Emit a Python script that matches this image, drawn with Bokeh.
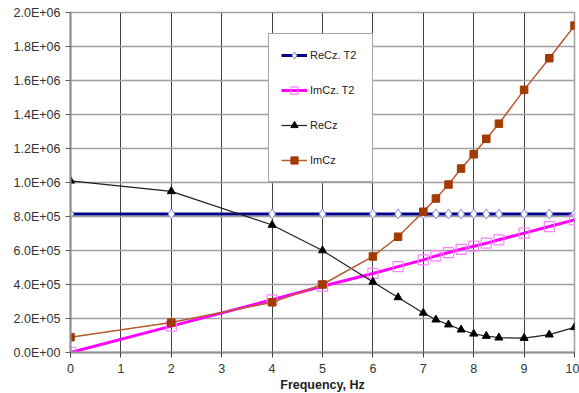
from bokeh.plotting import figure
from bokeh.models import FixedTicker, Range1d, Title, Legend
from bokeh.embed import file_html
from bokeh.resources import INLINE

freq = [0, 2, 4, 5, 6, 6.5, 7, 7.25, 7.5, 7.75, 8, 8.25, 8.5, 9, 9.5, 10]
recz_t2 = [8.15e5] * len(freq)
imcz_t2 = [0, 1.55e5, 3.1e5, 3.9e5, 4.65e5, 5.05e5, 5.45e5, 5.68e5, 5.88e5,
           6.07e5, 6.25e5, 6.43e5, 6.63e5, 7.02e5, 7.41e5, 7.8e5]
recz = [1.01e6, 0.948e6, 7.5e5, 6.0e5, 4.15e5, 3.24e5, 2.33e5, 1.93e5, 1.64e5,
        1.34e5, 1.1e5, 0.97e5, 0.87e5, 0.85e5, 1.05e5, 1.48e5]
imcz = [0.9e5, 1.76e5, 2.95e5, 4.0e5, 5.65e5, 6.81e5, 8.28e5, 9.06e5, 9.88e5,
        1.082e6, 1.166e6, 1.257e6, 1.346e6, 1.545e6, 1.731e6, 1.923e6]
y_ticks = [0, 2e5, 4e5, 6e5, 8e5, 1.0e6, 1.2e6, 1.4e6, 1.6e6, 1.8e6, 2.0e6]
x_ticks = list(range(0, 11))
x_title = "Frequency, Hz"

FONT = "Liberation Sans"

p = figure(width=579, height=393, output_backend="svg", toolbar_location=None,
           x_range=Range1d(0, 10), y_range=Range1d(0, 2.0e6),
           min_border_left=70, min_border_right=5, min_border_top=12,
           min_border_bottom=41)
p.background_fill_color = "white"
p.border_fill_color = "white"
p.outline_line_color = "#a0a0a0"
p.outline_line_width = 1.5

# axes
p.xaxis.ticker = FixedTicker(ticks=x_ticks)
p.yaxis.ticker = FixedTicker(ticks=y_ticks)
p.yaxis.major_label_overrides = {v: f"{v:.1E}" for v in y_ticks}
p.xaxis.major_label_overrides = {v: str(v) for v in x_ticks}
for ax in (p.xaxis, p.yaxis):
    ax.axis_line_color = "#909090"
    ax.axis_line_width = 2
    ax.major_tick_line_color = "#606060"
    ax.major_tick_out = 5
    ax.major_tick_in = 0
    ax.minor_tick_line_color = None
    ax.major_label_text_font = FONT
    ax.major_label_text_font_size = "12.5px"
    ax.major_label_text_color = "#333333"
p.yaxis.major_label_standoff = 5
p.xaxis.major_label_standoff = 6
p.xaxis.major_tick_line_color = "#404040"

p.xgrid.grid_line_color = "#404040"
p.xgrid.grid_line_width = 1
p.ygrid.grid_line_color = "#a0a0a0"
p.ygrid.grid_line_width = 1.5

# series
l1 = p.line(freq, recz_t2, line_color="#000088", line_width=3)
s1 = p.scatter(freq, recz_t2, marker="diamond", size=10, line_color="#8a8ae6",
               fill_color="white", line_width=1)
l2 = p.line(freq, imcz_t2, line_color="#ff00ff", line_width=3)
s2 = p.scatter(freq, imcz_t2, marker="square", size=10, line_color="#ff80ff",
               fill_color=None, line_width=1.2)
l3 = p.line(freq, recz, line_color="#202020", line_width=1.2)
s3 = p.scatter(freq, recz, marker="triangle", size=8, line_color="black",
               fill_color="black")
l4 = p.line(freq, imcz, line_color="#b85a30", line_width=1.5)
s4 = p.scatter(freq, imcz, marker="square", size=7.5, line_color="#a33a00",
               fill_color="#a33a00")

legend = Legend(items=[("ReCz. T2", [l1, s1]), ("ImCz. T2", [l2, s2]),
                       ("ReCz", [l3, s3]), ("ImCz", [l4, s4])],
                location=(198, 170))
legend.margin = 0
legend.padding = 12
legend.spacing = 17
legend.label_height = 18
legend.glyph_height = 18
legend.glyph_width = 26
legend.label_width = 50
legend.label_standoff = 3
legend.label_text_font = FONT
legend.label_text_font_size = "11px"
legend.label_text_color = "#222222"
legend.border_line_color = "#505050"
legend.border_line_width = 1
legend.background_fill_color = "white"
legend.background_fill_alpha = 1
p.add_layout(legend, "center")

p.add_layout(Title(text=x_title, align="center", standoff=0,
                   text_font=FONT, text_font_style="bold",
                   text_font_size="12.5px", text_color="#222222"), "below")

open("out.html", "w").write(file_html(p, INLINE))
